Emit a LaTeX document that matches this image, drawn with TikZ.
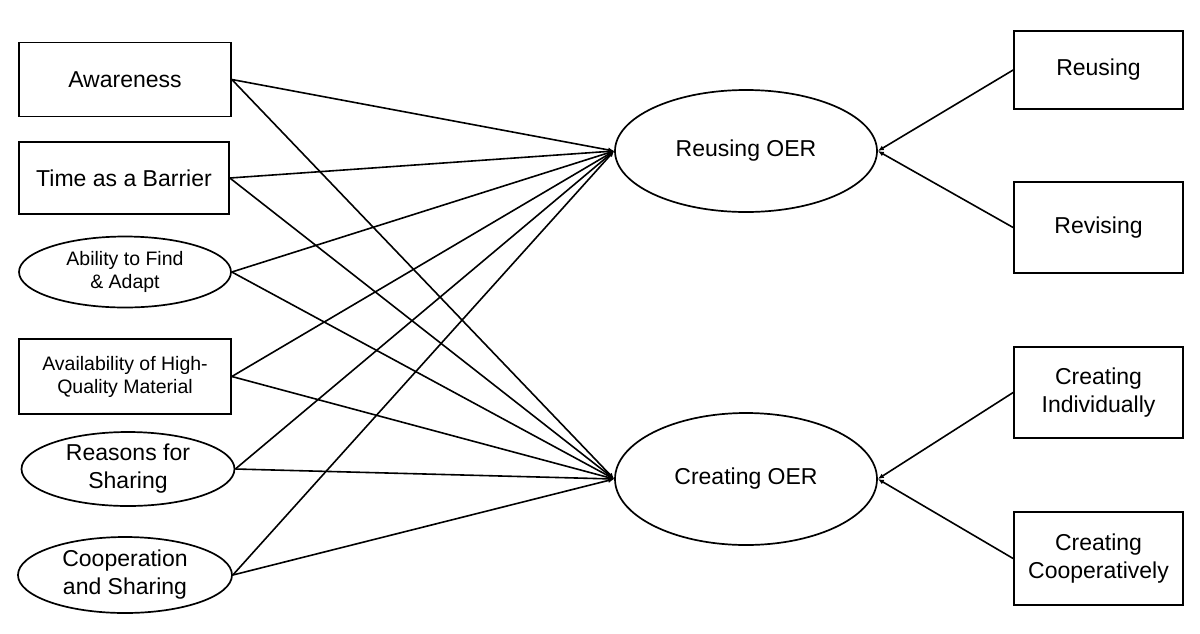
\documentclass[tikz,border=0pt]{standalone}
\usepackage{fontspec}
\setmainfont{Liberation Sans}
\usetikzlibrary{shapes.geometric,arrows.meta}

\begin{document}
\begin{tikzpicture}[x=1pt,y=-1pt,
    box/.style={draw, line width=1.7pt, rectangle, inner sep=0pt, align=center,
        font=\fontsize{23}{28}\selectfont},
    oval/.style={draw, line width=1.7pt, ellipse, inner sep=0pt, align=center,
        font=\fontsize{23}{28}\selectfont},
    small/.style={font=\fontsize{19.5}{23}\selectfont},
    link/.style={line width=1.6pt, -{Latex[length=6pt,width=5pt]}}]
    \useasboundingbox (0,0) rectangle (1200,633);

    % Left column: predictors
    \node[box, minimum width=212pt, minimum height=74pt] (aware) at (125,79.5) {Awareness};
    \node[box, minimum width=210pt, minimum height=72pt] (time) at (124,178) {Time as a Barrier};
    \node[oval, small, minimum width=212pt, minimum height=71pt] (ability) at (125,272) {Ability to Find\\\& Adapt};
    \node[box, small, minimum width=212pt, minimum height=75pt] (avail) at (125,376.5) {Availability of High-\\Quality Material};
    \node[oval, minimum width=213pt, minimum height=74pt] (reasons) at (128,469) {Reasons for\\Sharing};
    \node[oval, minimum width=214pt, minimum height=76pt] (coop) at (125,575) {Cooperation\\and Sharing};

    % Middle: the two latent variables
    \node[oval, minimum width=262pt, minimum height=122pt] (reuseoer) at (746,151) {Reusing OER};
    \node[oval, minimum width=262pt, minimum height=132pt] (createoer) at (746,479) {Creating OER};

    % Right column: indicators
    \node[box, minimum width=169pt, minimum height=78pt] (reusing) at (1098.5,70) {\raisebox{6pt}{Reusing}};
    \node[box, minimum width=169pt, minimum height=91pt] (revising) at (1098.5,227.5) {Revising};
    \node[box, minimum width=169pt, minimum height=91pt] (indiv) at (1098.5,392.5) {Creating\\Individually};
    \node[box, minimum width=169pt, minimum height=93pt] (coopv) at (1098.5,558.5) {Creating\\Cooperatively};

    % Paths from every predictor to both latent variables
    \foreach \src in {aware,time,ability,avail,reasons,coop} {
        \draw[link] (\src.east) -- (reuseoer.west);
        \draw[link] (\src.east) -- (createoer.west);
    }

    % Indicators
    \draw[link] (reusing.west) -- (reuseoer.east);
    \draw[link] (revising.west) -- (reuseoer.east);
    \draw[link] (indiv.west) -- (createoer.east);
    \draw[link] (coopv.west) -- (createoer.east);
\end{tikzpicture}
\end{document}
